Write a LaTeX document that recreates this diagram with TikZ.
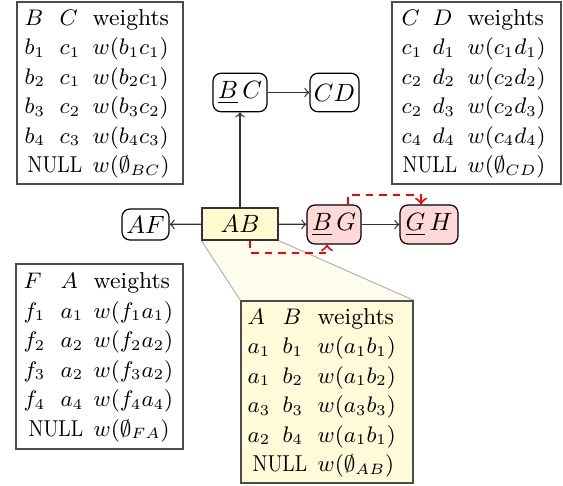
\documentclass[tikz,border=0pt]{standalone}
\usepackage{amssymb}
\usepackage{graphicx}
\usetikzlibrary{calc,backgrounds}
\definecolor{nodeyellow}{RGB}{255,249,208}
\definecolor{tblyellow}{RGB}{255,250,215}
\definecolor{calloutfill}{RGB}{255,253,238}
\definecolor{nodepink}{RGB}{255,216,216}
\newcommand{\nulltxt}{\scalebox{0.84}[1]{NULL}}
\tikzset{
  rnode/.style={draw=black, rounded corners=3.2pt, line width=0.5pt, inner sep=0pt,
    font=\fontsize{9.6}{11.5}\selectfont},
  anode/.style={draw=black!80, line width=0.5pt, inner sep=0pt,
    font=\fontsize{9.6}{11.5}\selectfont},
  tblbox/.style={draw=black!70, line width=0.6pt, inner sep=0pt},
  tbltext/.style={anchor=west, inner sep=0pt, font=\fontsize{9.2}{11.8}\selectfont},
  conn/.style={->, draw=black!80, line width=0.5pt},
  redconn/.style={->, draw=red, line width=0.8pt, dash pattern=on 3pt off 2.4pt},
}
\begin{document}
\begin{tikzpicture}[x=0.4pt,y=-0.4pt]
\useasboundingbox (0,0) rectangle (563,486);
% table boxes
\node[tblbox, minimum width=66.4pt, minimum height=72.8pt] (tBC) at (100,93) {};
\node[tblbox, minimum width=67.6pt, minimum height=72.8pt] (tCD) at (476.5,93) {};
\node[tblbox, minimum width=66.8pt, minimum height=74pt] (tFA) at (99.5,356.5) {};
\node[tblbox, fill=tblyellow, minimum width=68.8pt, minimum height=72.8pt] (tAB) at (327,392) {};
% table contents
\node[tbltext] (xBC) at ($(tBC.west)+(8,0)$) {%
\begin{tabular}{@{}p{14pt}@{}p{13.2pt}@{}l@{}}
$B$ & $C$ & weights\\
$b_1$ & $c_1$ & $w(b_1c_1)$\\
$b_2$ & $c_1$ & $w(b_2c_1)$\\
$b_3$ & $c_2$ & $w(b_3c_2)$\\
$b_4$ & $c_3$ & $w(b_4c_3)$\\
\multicolumn{2}{@{}r@{\hspace{4.2pt}}}{\nulltxt} & $w(\emptyset_{BC})$
\end{tabular}};
\node[tbltext] (xCD) at ($(tCD.west)+(10,0)$) {%
\begin{tabular}{@{}p{12.4pt}@{}p{14pt}@{}l@{}}
$C$ & $D$ & weights\\
$c_1$ & $d_1$ & $w(c_1d_1)$\\
$c_2$ & $d_2$ & $w(c_2d_2)$\\
$c_2$ & $d_3$ & $w(c_2d_3)$\\
$c_4$ & $d_4$ & $w(c_4d_4)$\\
\multicolumn{2}{@{}r@{\hspace{4.2pt}}}{\nulltxt} & $w(\emptyset_{CD})$
\end{tabular}};
\node[tbltext] (xFA) at ($(tFA.west)+(8,0)$) {%
\begin{tabular}{@{}p{14.8pt}@{}p{13.2pt}@{}l@{}}
$F$ & $A$ & weights\\
$f_1$ & $a_1$ & $w(f_1a_1)$\\
$f_2$ & $a_2$ & $w(f_2a_2)$\\
$f_3$ & $a_2$ & $w(f_3a_2)$\\
$f_4$ & $a_4$ & $w(f_4a_4)$\\
\multicolumn{2}{@{}r@{\hspace{4.2pt}}}{\nulltxt} & $w(\emptyset_{FA})$
\end{tabular}};
\node[tbltext] (xAB) at ($(tAB.west)+(7,0)$) {%
\begin{tabular}{@{}p{14pt}@{}p{14pt}@{}l@{}}
$A$ & $B$ & weights\\
$a_1$ & $b_1$ & $w(a_1b_1)$\\
$a_1$ & $b_2$ & $w(a_1b_2)$\\
$a_3$ & $b_3$ & $w(a_3b_3)$\\
$a_2$ & $b_4$ & $w(a_1b_1)$\\
\multicolumn{2}{@{}r@{\hspace{4.2pt}}}{\nulltxt} & $w(\emptyset_{AB})$
\end{tabular}};
% graph nodes
\node[anode, fill=nodeyellow, minimum width=30.4pt, minimum height=12.8pt] (AB) at (240,224) {$AB$};
\node[rnode, minimum width=18.8pt, minimum height=12.4pt] (AF) at (145.5,224.5) {$AF$};
\node[rnode, minimum width=21.6pt, minimum height=15.4pt] (BC) at (240,92.5) {$\underline{B}\,C$};
\node[rnode, minimum width=19.6pt, minimum height=15.4pt] (CD) at (334.5,92.5) {$CD$};
\node[rnode, fill=nodepink, minimum width=21.6pt, minimum height=15.6pt] (BG) at (334,224.5) {$\underline{B}\,G$};
\node[rnode, fill=nodepink, minimum width=23.2pt, minimum height=15.6pt] (GH) at (429,224.5) {$\underline{G}\,H$};
% callout
\begin{scope}[on background layer]
\fill[calloutfill] (AB.south west) -- (tAB.north west) -- (tAB.north east) -- (AB.south east) -- cycle;
\draw[black!30, line width=0.4pt] (AB.south west) -- (tAB.north west);
\draw[black!30, line width=0.4pt] (AB.south east) -- (tAB.north east);
\end{scope}
% connectors
\draw[conn] (AB) -- (AF);
\draw[conn] (AB) -- (BC);
\draw[conn] (BC) -- (CD);
\draw[conn] (AB) -- (BG);
\draw[conn] (BG) -- (GH);
% red dashed
\draw[redconn] ($(AB.south)+(10,0)$) -- ++(0,12) -| ($(BG.south)+(-7,0)$);
\draw[redconn] ($(BG.north)+(14,0)$) -- ++(0,-9) -| ($(GH.north)+(-8,0)$);
\end{tikzpicture}
\end{document}
